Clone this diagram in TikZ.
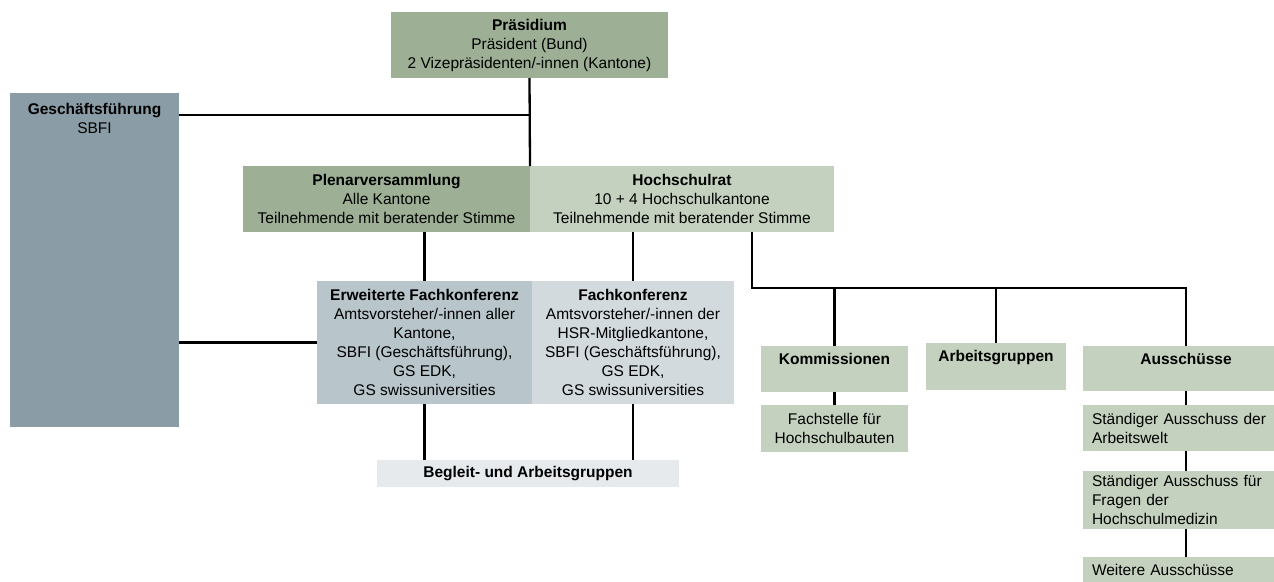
\documentclass[tikz,border=0pt]{standalone}
\usepackage{fontspec}
\setmainfont{Liberation Sans}
\definecolor{dgreen}{HTML}{9DB095}
\definecolor{lgreen}{HTML}{C5D1BF}
\definecolor{gfblue}{HTML}{8A9CA6}
\definecolor{erwblue}{HTML}{B8C5CB}
\definecolor{fachgrey}{HTML}{D3DADD}
\definecolor{beggrey}{HTML}{E6EAEC}
\begin{document}
\begin{tikzpicture}[x=1pt,y=-1pt,
  box/.style={anchor=north west, inner sep=0pt, outer sep=0pt, draw=none,
    font=\fontsize{15.5}{19}\selectfont, align=center},
  lbox/.style={box, align=left, inner xsep=9pt},
  txt/.style={inner sep=0pt, outer sep=0pt, font=\fontsize{15.5}{19}\selectfont, align=center},
  conn/.style={line width=2.3pt, draw=black, line join=miter}
]
\useasboundingbox (0,0) rectangle (1274,581);

\node[box, fill=dgreen, minimum width=277pt, minimum height=66pt] (pres) at (391,12)
  {\textbf{Präsidium}\\Präsident (Bund)\\2 Vizepräsidenten/-innen (Kantone)};
\node[box, fill=gfblue, minimum width=169pt, minimum height=334pt] (gf) at (10,93) {};
\node[txt] (gft) at ([yshift=-25pt]gf.north) {\textbf{Geschäftsführung}\\SBFI};
\node[box, fill=dgreen, minimum width=287pt, minimum height=66pt] (plen) at (243,166)
  {\textbf{Plenarversammlung}\\Alle Kantone\\Teilnehmende mit beratender Stimme};
\node[box, fill=lgreen, minimum width=304pt, minimum height=66pt] (hsr) at (530,166)
  {\textbf{Hochschulrat}\\10 + 4 Hochschulkantone\\Teilnehmende mit beratender Stimme};
\node[box, fill=erwblue, minimum width=215pt, minimum height=123pt] (erw) at (317,281)
  {\textbf{Erweiterte Fachkonferenz}\\Amtsvorsteher/-innen aller\\Kantone,\\SBFI (Geschäftsführung),\\GS EDK,\\GS swissuniversities};
\node[box, fill=fachgrey, minimum width=202pt, minimum height=123pt] (fach) at (532,281)
  {\textbf{Fachkonferenz}\\Amtsvorsteher/-innen der\\HSR-Mitgliedkantone,\\SBFI (Geschäftsführung),\\GS EDK,\\GS swissuniversities};
\node[box, fill=beggrey, minimum width=302pt, minimum height=27pt] (beg) at (377,460)
  {\textbf{Begleit- und Arbeitsgruppen}};

\node[box, fill=lgreen, minimum width=147pt, minimum height=46pt] (kom) at (761,346) {};
\node[txt] (komt) at ([yshift=-12.5pt]kom.north) {\textbf{Kommissionen}};
\node[box, fill=lgreen, minimum width=140pt, minimum height=47pt] (arb) at (926,343) {};
\node[txt] (arbt) at ([yshift=-14.5pt]arb.north) {\textbf{Arbeitsgruppen}};
\node[box, fill=lgreen, minimum width=206pt, minimum height=45pt] (aus) at (1083,346) {};
\node[txt] (aust) at ([yshift=-12.5pt]aus.north) {\textbf{Ausschüsse}};

\node[box, fill=lgreen, minimum width=147pt, minimum height=47pt] (fst) at (761,405)
  {Fachstelle für\\Hochschulbauten};
\node[lbox, fill=lgreen, text width=188pt, minimum height=46pt] (sa1) at (1083,405)
  {Ständiger Ausschuss der\\Arbeitswelt};
\node[lbox, fill=lgreen, text width=188pt, minimum height=58pt] (sa2) at (1083,471)
  {Ständiger Ausschuss für\\Fragen der\\Hochschulmedizin};
\node[lbox, fill=lgreen, text width=188pt, minimum height=26pt] (wa) at (1083,557)
  {Weitere Ausschüsse};

\coordinate (j1) at (530,115);
\coordinate (hb) at (752,288);

\draw[conn] (pres.south) -- (plen.north east);
\draw[conn] (gf.east |- j1) -- (j1);
\draw[conn] (gf.east |- erw.west) -- (erw.west);
\draw[conn] (erw.north |- plen.south) -- (erw.north);
\draw[conn] (fach.north |- hsr.south) -- (fach.north);
\draw[conn] (erw.south) -- (erw.south |- beg.north);
\draw[conn] (fach.south) -- (fach.south |- beg.north);
\draw[conn] (hsr.south -| hb) -- (hb) -- (aus.north |- hb) -- (aus.north);
\draw[conn] (kom.north |- hb) -- (kom.north);
\draw[conn] (arb.north |- hb) -- (arb.north);
\draw[conn] (kom.south) -- (fst.north);
\draw[conn] (aus.south) -- (sa1.north);
\draw[conn] (sa1.south) -- (sa2.north);
\draw[conn] (sa2.south) -- (wa.north);
\end{tikzpicture}
\end{document}
